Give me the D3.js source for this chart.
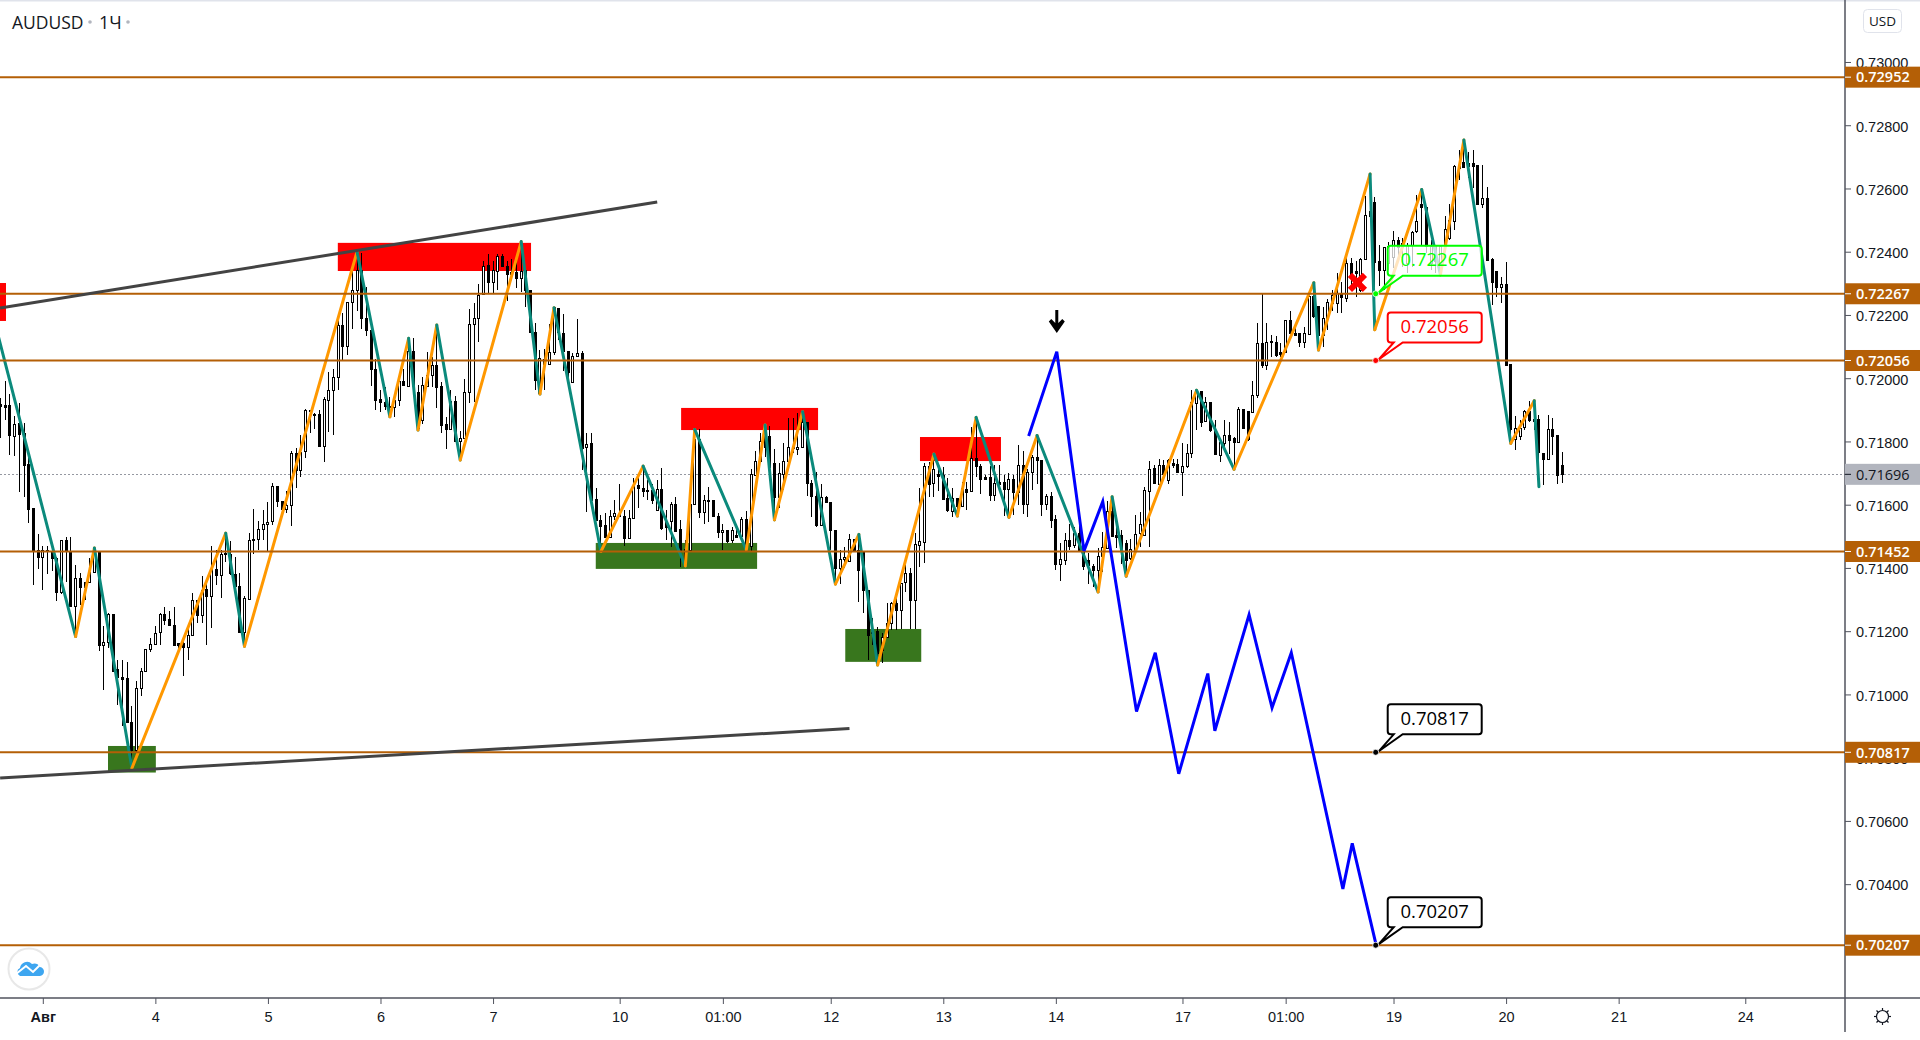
<!DOCTYPE html>
<html>
<head>
<meta charset="utf-8">
<title>AUDUSD 1Ч</title>
<script src="https://cdn.jsdelivr.net/npm/d3@7"></script>
<style>
  html, body { margin: 0; background: #fff; }
  svg { display: block; font-family: "Open Sans", sans-serif; }
  .tick text { fill: #131722; font-size: 14.5px; }
  .tick line { stroke: #50535e; }
</style>
</head>
<body>
<svg id="chart" width="1920" height="1040"></svg>
<script>
// Prices are in points (1 point = 0.00001), one entry per hourly bar.
const opens = [
  71916,71915,71913,71818,71858,71824,71726,71587,71454,71433,
  71455,71451,71431,71320,71486,71451,71278,71368,71354,71354,
  71386,71449,71154,71164,71254,71078,71055,71051,70912,70825,
  71020,71073,71143,71159,71194,71252,71236,71218,71160,71162,
  71148,71187,71297,71250,71331,71310,71396,71376,71445,71441,
  71380,71341,71196,71303,71491,71491,71523,71538,71545,71656,
  71610,71584,71598,71763,71708,71766,71897,71884,71884,
  71784,71931,71961,72003,72167,72100,72240,72277,72340,72189,72150,
  72028,71933,71923,71908,71908,71929,71990,71976,72086,71955,
  71866,71976,72009,72041,71975,71854,71839,71927,71802,71809,
  71955,72170,72189,72263,72355,72302,72340,72386,72353,72334,
  72334,72315,72340,72277,72144,71952,72060,72043,72081,72219,
  72142,72085,71986,72068,72079,71780,71792,71615,71550,71533,
  71497,71562,71569,71564,71494,71557,71661,
  71652,71646,71646,
  71583,71649,71546,71546,71601,71520,71457,71457,71601,71805,
  71575,71610,71612,71564,71512,71519,71485,71504,71499,71554,
  71465,71694,71738,71817,71815,71729,71622,71697,71738,71781,
  71775,71780,71860,71667,71625,71534,71623,71607,71518,71399,
  71427,71420,71490,71455,71451,71330,71196,71198,71140,71181,
  71223,71286,71265,71351,71381,71295,71470,71483,71722,71665,
  71696,71691,71620,71578,71620,
  71593,71649,71641,71746,71722,
  71686,71686,71630,71669,71670,71650,71681,71641,71725,71600,
  71701,71749,71741,71602,71627,71553,71412,71425,71488,71472,
  71509,71462,71423,71406,71393,71435,71464,71580,71504,71501,
  71478,71429,71456,71506,71504,71644,71715,71665,71724,71678,
  71730,71728,71704,71720,71760,71920,71959,71862,71923,71836,
  71757,71796,71820,71810,71797,71901,71894,71892,
  71947,72110,72042,
  72117,72114,72081,72081,72184,72142,72140,72113,72138,
  72258,72228,72137,72187,72237,72237,72265,72253,72363,72337,
  72279,72374,72511,72557,72368,72340,72363,72384,72437,72414,
  72363,72418,72464,72548,72539,72363,72416,72348,72416,72442,
  72498,72671,72683,72669,72680,72674,72551,72569,72374,72337,
  72286,72297,72042,71805,71817,71842,71896,71868,71868,71761,
  71744,71839,71820,71725
];
const highs = [
  71937,71992,71949,71879,71921,71858,71773,71587,71508,71470,
  71470,71473,71436,71489,71497,71499,71410,71383,71357,71431,
  71463,71452,71215,71257,71254,71109,71109,71104,70964,71043,
  71083,71143,71178,71215,71257,71276,71265,71278,71162,71183,
  71217,71320,71299,71373,71360,71468,71457,71457,71510,71484,
  71436,71383,71312,71510,71587,71549,71584,71610,71668,71656,
  71610,71642,71771,71779,71821,71902,71895,71889,71900,
  71942,72021,72028,72189,72205,72240,72358,72400,72395,72289,72150,
  72060,71963,71971,71942,71942,71994,72028,72126,72126,71979,
  72005,72084,72068,72168,71989,71878,71963,71944,71834,71996,
  72218,72237,72297,72372,72393,72372,72393,72393,72372,72376,
  72372,72432,72342,72279,72173,72089,72091,72171,72223,72219,
  72203,72085,72079,72187,72086,71826,71826,71652,71567,71573,
  71583,71615,71664,71583,71583,71683,71699,
  71720,71678,71667,
  71678,71715,71583,71610,71625,71552,71488,71601,71838,71838,
  71631,71655,71612,71575,71539,71519,71530,71533,71562,71580,
  71713,71770,71828,71852,71849,71775,71731,71794,71873,71873,
  71889,71894,71860,71678,71702,71667,71627,71607,71518,71457,
  71467,71506,71490,71509,71451,71330,71241,71214,71193,71290,
  71293,71314,71351,71409,71399,71509,71652,71733,71736,71760,
  71725,71720,71683,71652,71620,
  71673,71673,71846,71876,71730,
  71694,71722,71725,71725,71694,71699,71694,71788,71771,71712,
  71757,71819,71741,71634,71641,71567,71478,71509,71539,71530,
  71539,71488,71446,71414,71462,71514,71612,71625,71567,71520,
  71488,71490,71567,71578,71657,71739,71725,71746,71741,71746,
  71746,71746,71794,71792,71962,71964,71959,71941,71925,71868,
  71806,71868,71862,71815,71910,71901,71894,71991,
  72174,72271,72174,
  72137,72132,72110,72184,72211,72163,72142,72163,72269,
  72302,72228,72226,72251,72279,72334,72305,72379,72379,72372,
  72379,72576,72646,72574,72421,72416,72432,72464,72448,72442,
  72427,72464,72579,72597,72539,72437,72421,72416,72513,72551,
  72674,72722,72753,72716,72722,72674,72674,72606,72379,72340,
  72321,72369,72042,71881,71868,71900,71929,71929,71884,71765,
  71884,71873,71820,71767
];
const lows = [
  71812,71868,71758,71754,71639,71624,71542,71347,71397,71331,
  71381,71389,71296,71317,71354,71278,71183,71283,71299,71354,
  71386,71136,71015,71146,71073,70965,70899,70909,70767,70814,
  70996,71073,71133,71157,71157,71220,71215,71152,71130,71057,
  71109,71185,71225,71225,71157,71210,71347,71304,71420,71378,
  71310,71196,71152,71301,71443,71457,71489,71452,71536,71594,
  71584,71573,71534,71652,71686,71747,71828,71839,71782,
  71736,71831,71820,71963,72055,72073,72155,72214,72155,72133,71975,
  71899,71894,71899,71878,71878,71913,71976,71973,71973,71836,
  71855,71976,71971,71907,71828,71775,71838,71802,71741,71809,
  71921,71926,72116,72263,72270,72270,72279,72353,72245,72316,
  72284,72274,72226,72144,71963,71950,71963,72043,72073,72121,
  72024,71984,71986,72068,71710,71578,71613,71550,71452,71494,
  71494,71552,71562,71470,71494,71557,71589,
  71625,71615,71602,
  71583,71520,71488,71467,71517,71404,71404,71457,71601,71557,
  71539,71546,71560,71494,71457,71480,71478,71497,71494,71457,
  71455,71694,71736,71752,71686,71552,71588,71646,71738,71762,
  71757,71780,71627,71562,71530,71533,71606,71457,71348,71348,
  71399,71420,71451,71293,71256,71109,71156,71093,71098,71181,
  71204,71204,71207,71325,71207,71207,71404,71417,71623,71623,
  71644,71615,71578,71562,71562,
  71593,71583,71641,71688,71634,
  71678,71612,71612,71641,71564,71560,71567,71599,71570,71562,
  71646,71667,71564,71583,71525,71395,71360,71409,71456,71462,
  71451,71395,71349,71341,71324,71388,71462,71501,71462,71414,
  71374,71425,71450,71467,71504,71467,71665,71662,71688,71667,
  71715,71703,71628,71715,71749,71836,71846,71860,71831,71759,
  71736,71783,71760,71709,71797,71841,71802,71892,
  71937,72031,72026,
  72068,72068,72068,72079,72140,72135,72098,72095,72138,
  72190,72089,72100,72153,72211,72207,72205,72242,72279,72258,
  72274,72374,72509,72153,72290,72279,72342,72348,72374,72353,
  72332,72353,72460,72421,72395,72342,72332,72327,72414,72437,
  72469,72627,72666,72632,72601,72551,72537,72372,72232,72258,
  72237,72040,71794,71773,71805,71836,71863,71836,71657,71662,
  71742,71757,71666,71670
];
const closes = [
  71910,71910,71818,71855,71822,71723,71584,71454,71433,71455,
  71451,71429,71322,71486,71452,71278,71368,71338,71339,71387,
  71463,71154,71164,71254,71075,71054,71050,70911,70825,71020,
  71073,71143,71159,71194,71252,71234,71218,71154,71154,71148,
  71187,71297,71250,71329,71310,71396,71376,71443,71442,71380,
  71341,71196,71304,71488,71487,71523,71538,71545,71656,71607,
  71584,71598,71763,71708,71766,71897,71893,71881,71784,
  71933,71962,72003,72167,72100,72240,72277,72340,72188,72150,72026,
  71931,71923,71910,71912,71929,71990,71976,72086,71979,71842,
  71977,72010,72041,71973,71852,71839,71926,71802,71810,71955,
  72170,72189,72263,72353,72302,72340,72386,72353,72329,72329,
  72314,72337,72277,72144,71991,72063,72045,72082,72223,72142,
  72084,72018,72068,72079,71780,71790,71613,71550,71531,71494,
  71564,71573,71562,71494,71557,71657,71651,
  71641,71642,71615,
  71649,71527,71527,71601,71517,71451,71406,71601,71805,71575,
  71612,71612,71560,71512,71519,71485,71517,71498,71554,71457,
  71694,71738,71801,71781,71718,71622,71699,71738,71781,71777,
  71781,71860,71667,71625,71533,71622,71606,71518,71399,71427,
  71434,71490,71455,71391,71328,71188,71193,71130,71181,71225,
  71286,71265,71351,71381,71295,71473,71484,71722,71665,71710,
  71689,71615,71583,71620,71594,
  71651,71641,71746,71720,71682,
  71681,71630,71667,71664,71649,71681,71641,71725,71601,71701,
  71749,71738,71602,71627,71551,71412,71427,71488,71470,71509,
  71451,71404,71408,71393,71437,71465,71580,71501,71499,71450,
  71425,71459,71506,71536,71646,71712,71667,71724,71694,71741,
  71725,71703,71722,71762,71922,71962,71862,71922,71834,71759,
  71797,71820,71804,71797,71901,71841,71804,71946,
  72110,72042,72114,
  72113,72074,72074,72182,72142,72137,72110,72140,72258,
  72195,72137,72190,72240,72263,72269,72256,72363,72327,72332,
  72376,72513,72527,72366,72340,72413,72416,72437,72414,72427,
  72421,72460,72495,72539,72416,72416,72369,72416,72469,72500,
  72671,72666,72666,72680,72672,72551,72569,72372,72302,72286,
  72297,72040,71836,71840,71842,71894,71868,71863,71763,71742,
  71839,71818,71692,71696
];

// Zigzag pivots: bar index and price
const zigzagBars = [-1,16,20,28,48,52,76,83,87,89,93,98,111,115,118,128,137,146,148,159,163,165,171,178,183,187,199,204,208,215,221,234,237,240,255,263,280,281,292,293,303,307,312,322,327,328];
const zigzagPrices = [72162,71183,71463,70767,71510,71152,72400,71878,72126,71836,72168,71741,72432,71950,72223,71452,71722,71406,71838,71457,71852,71552,71894,71349,71506,71093,71760,71564,71876,71560,71819,71324,71625,71374,71962,71712,72302,72089,72646,72153,72597,72327,72753,71794,71929,71657];

// Hand-drawn blue forecast path
const forecastBars = [219.2,225.2,231,235,242.2,246.2,251.2,257.4,258.9,266.2,271.1,275.2,286.2,288.2,293.3];
const forecastPrices = [71817,72084,71454,71610,70946,71132,70749,71066,70885,71252,70958,71132,70385,70529,70207];

// Supply/demand boxes: [fromBar, toBar, topPrice, bottomPrice]
const redZones = [[-1,1.15,72301,72181],[71.9,113.1,72428,72339],[145.1,174.3,71906,71836],[196.03,213.3,71814,71738]];
const greenZones = [[22.9,33.1,70837,70753],[126.9,161.3,71479,71397],[180.1,196.3,71207,71103]];

// Trend lines: [fromBar, fromPrice, toBar, toPrice]
const trendLines = [[-0.1,72222,140,72557],[-0.1,70736,181,70892]];

const levels = [72952,72267,72056,71452,70817,70207];
const lastPrice = 71696;

const priceTicks = [73000,72800,72600,72400,72200,72000,71800,71600,71400,71200,71000,70800,70600,70400,70200];
const timeTickBars = [9,33,57,81,105,132,154,177,201,225,252,274,297,321,345,372];
const timeTickLabels = ["Авг","4","5","6","7","10","01:00","12","13","14","17","01:00","19","20","21","24"];

const callouts = [
  { price: 72267, color: "#00ff00" },
  { price: 72056, color: "#ff0000" },
  { price: 70817, color: "#000000" },
  { price: 70207, color: "#000000" },
];
const calloutBar = 293.2;
const crossBar = 289.3, crossPrice = 72303;
const arrowBar = 225.2, arrowPrice = 72216;

const PLOT_W = 1845, PLOT_H = 998;
const LEVEL_COLOR = "#b45f06";

const x = d3.scaleLinear().domain([0, 333]).range([0.6, 0.6 + 333 * 4.69]);
const y = d3.scaleLinear().domain([73196, 70040]).range([0, PLOT_H]);
const fmt = (p) => (p / 1e5).toFixed(5);
const crisp = (v) => Math.floor(v) + 0.5;

const svg = d3.select("#chart");
svg.append("defs").append("clipPath").attr("id", "plot")
  .append("rect").attr("width", PLOT_W).attr("height", PLOT_H);

svg.append("rect").attr("width", 1920).attr("height", 1.5).attr("fill", "#e0e3eb");

const plot = svg.append("g").attr("clip-path", "url(#plot)");

// zones sit behind the candles
function drawZones(list, color) {
  plot.append("g").selectAll("rect").data(list).join("rect")
    .attr("x", (d) => x(d[0]))
    .attr("y", (d) => y(d[2]))
    .attr("width", (d) => x(d[1]) - x(d[0]))
    .attr("height", (d) => y(d[3]) - y(d[2]))
    .attr("fill", color);
}
drawZones(redZones, "#ff0000");
drawZones(greenZones, "#38761d");

// last price dotted line
plot.append("line")
  .attr("x1", 0).attr("x2", PLOT_W)
  .attr("y1", crisp(y(lastPrice))).attr("y2", crisp(y(lastPrice)))
  .attr("stroke", "#9598a1").attr("stroke-dasharray", "2 2");

// candles
const bars = d3.range(opens.length);
const gCandles = plot.append("g").attr("shape-rendering", "crispEdges");
gCandles.selectAll("line").data(bars).join("line")
  .attr("x1", (i) => crisp(x(i))).attr("x2", (i) => crisp(x(i)))
  .attr("y1", (i) => y(highs[i])).attr("y2", (i) => y(lows[i]))
  .attr("stroke", "#000");
gCandles.selectAll("rect").data(bars).join("rect")
  .attr("x", (i) => crisp(x(i)) - 1)
  .attr("width", 2)
  .attr("y", (i) => crisp(y(Math.max(opens[i], closes[i]))))
  .attr("height", (i) => Math.max(1, Math.round(Math.abs(y(opens[i]) - y(closes[i])))))
  .attr("fill", (i) => (closes[i] >= opens[i] ? "#fff" : "#000"))
  .attr("stroke", "#000");

// zigzag: orange legs up, teal legs down
const gZig = plot.append("g").attr("fill", "none").attr("stroke-width", 3).attr("stroke-linecap", "round");
gZig.selectAll("line").data(zigzagBars.slice(1)).join("line")
  .attr("x1", (d, k) => x(zigzagBars[k])).attr("y1", (d, k) => y(zigzagPrices[k]))
  .attr("x2", (d, k) => x(zigzagBars[k + 1])).attr("y2", (d, k) => y(zigzagPrices[k + 1]))
  .attr("stroke", (d, k) => (zigzagPrices[k + 1] > zigzagPrices[k] ? "#ff9800" : "#0b8a7c"));

// horizontal levels
plot.append("g").selectAll("line").data(levels).join("line")
  .attr("x1", 0).attr("x2", PLOT_W)
  .attr("y1", (d) => y(d)).attr("y2", (d) => y(d))
  .attr("stroke", LEVEL_COLOR).attr("stroke-width", 2);

// trend lines
plot.append("g").selectAll("line").data(trendLines).join("line")
  .attr("x1", (d) => x(d[0])).attr("y1", (d) => y(d[1]))
  .attr("x2", (d) => x(d[2])).attr("y2", (d) => y(d[3]))
  .attr("stroke", "#434343").attr("stroke-width", 3);

// forecast
plot.append("path")
  .datum(forecastBars)
  .attr("fill", "none").attr("stroke", "#0000ff").attr("stroke-width", 3)
  .attr("d", d3.line().x((d) => x(d)).y((d, k) => y(forecastPrices[k])));

// red cross
const cx = x(crossBar), cy = y(crossPrice);
plot.append("path")
  .attr("d", `M${cx - 7.5},${cy - 7.5}L${cx + 7.5},${cy + 7.5}M${cx + 7.5},${cy - 7.5}L${cx - 7.5},${cy + 7.5}`)
  .attr("stroke", "#ff0000").attr("stroke-width", 6);

// black down arrow
const ax = x(arrowBar), ay = y(arrowPrice);
plot.append("path")
  .attr("d", `M${ax - 1.5},${ay}h3v13l4,-4l2.5,2.5l-8,11.5l-8,-11.5l2.5,-2.5l4,4z`)
  .attr("fill", "#000");

// callouts with a tail pointing at the level
callouts.forEach((c) => {
  const px = x(calloutBar), py = y(c.price);
  const l = px + 12, r = px + 106, t = py - 48, b = py - 18, rad = 3;
  const g = svg.append("g");
  g.append("path")
    .attr("d", `M${l + rad},${t}H${r - rad}Q${r},${t} ${r},${t + rad}V${b - rad}Q${r},${b} ${r - rad},${b}`
      + `H${px + 27}L${px + 3},${py - 1}L${px + 18},${b}H${l + rad}Q${l},${b} ${l},${b - rad}V${t + rad}Q${l},${t} ${l + rad},${t}Z`)
    .attr("fill", "rgba(255,255,255,0.75)").attr("stroke", c.color).attr("stroke-width", 2);
  g.append("circle").attr("cx", px).attr("cy", py).attr("r", 3)
    .attr("fill", c.color).attr("stroke", "#fff").attr("stroke-width", 0.8);
  g.append("text")
    .attr("x", (l + r) / 2).attr("y", t + 20.5)
    .attr("text-anchor", "middle")
    .attr("font-size", 18.5).attr("font-weight", 500)
    .attr("fill", c.color)
    .text(fmt(c.price));
});

// price axis
const yAxis = d3.axisRight(y).tickValues(priceTicks).tickFormat(fmt).tickSize(6).tickPadding(5);
const gy = svg.append("g").attr("transform", `translate(${PLOT_W},0)`).call(yAxis);
gy.select(".domain").remove();
gy.selectAll(".tick text").attr("dy", "0.4em");

// time axis
const xAxis = d3.axisBottom(x).tickValues(timeTickBars)
  .tickFormat((d, k) => timeTickLabels[k]).tickSize(6).tickPadding(8);
const gx = svg.append("g").attr("transform", `translate(0,${PLOT_H})`).call(xAxis);
gx.select(".domain").remove();
gx.selectAll(".tick text").filter((d, k) => k === 0).attr("font-weight", 700).style("font-weight", 700);

svg.append("line").attr("x1", 0).attr("x2", 1920).attr("y1", PLOT_H).attr("y2", PLOT_H)
  .attr("stroke", "#50535e").attr("stroke-width", 1.5);
svg.append("line").attr("x1", PLOT_W).attr("x2", PLOT_W).attr("y1", 0).attr("y2", 1032)
  .attr("stroke", "#50535e").attr("stroke-width", 1.5);

// price labels over the axis
function priceLabel(price, bg, fg, weight) {
  const g = svg.append("g").attr("transform", `translate(${PLOT_W},${y(price)})`);
  g.append("rect").attr("x", 0).attr("y", -10.5).attr("width", 75).attr("height", 21).attr("fill", bg);
  g.append("line").attr("x1", 0).attr("x2", 6).attr("stroke", fg);
  g.append("text").attr("x", 11).attr("dy", "0.36em")
    .attr("font-size", 14.5).attr("font-weight", weight).attr("fill", fg)
    .text(fmt(price));
}
priceLabel(lastPrice, "#b2b5be", "#131722", 400);
levels.forEach((p) => priceLabel(p, LEVEL_COLOR, "#fff", 600));

// USD button
svg.append("rect").attr("x", 1863.5).attr("y", 9.5).attr("width", 38).attr("height", 23).attr("rx", 4)
  .attr("fill", "#fff").attr("stroke", "#e0e3eb");
svg.append("text").attr("x", 1882.5).attr("y", 26).attr("text-anchor", "middle")
  .attr("font-size", 13.5).attr("fill", "#131722").text("USD");

// title
svg.append("text").attr("x", 12).attr("y", 29).attr("font-size", 17.5).attr("fill", "#131722").text("AUDUSD");
svg.append("text").attr("x", 99).attr("y", 29).attr("font-size", 18).attr("fill", "#131722").text("1Ч");
[90, 128].forEach((dx) => {
  svg.append("circle").attr("cx", dx).attr("cy", 22).attr("r", 1.8).attr("fill", "#b2b5be");
});

// settings gear
const gear = svg.append("g").attr("transform", "translate(1882.5,1016.5)")
  .attr("fill", "none").attr("stroke", "#131722").attr("stroke-width", 1.2);
gear.append("circle").attr("r", 6);
d3.range(8).forEach((k) => {
  const a = k * Math.PI / 4;
  gear.append("line")
    .attr("x1", 6 * Math.cos(a)).attr("y1", 6 * Math.sin(a))
    .attr("x2", 8.5 * Math.cos(a)).attr("y2", 8.5 * Math.sin(a));
});

// logo
svg.append("circle").attr("cx", 29).attr("cy", 969).attr("r", 20.5)
  .attr("fill", "#fff").attr("stroke", "#e8e8e8").attr("stroke-width", 2);
svg.append("path")
  .attr("d", "M20 976h19a4.5 4.5 0 0 0 1 -9a7 7 0 0 0 -8 -3a7 7 0 0 0 -12 4a4.3 4.3 0 0 0 0 8z")
  .attr("fill", "#3ea6f0");
svg.append("polyline").attr("points", "16,974 26,966 33,972 41,964")
  .attr("fill", "none").attr("stroke", "#fff").attr("stroke-width", 2);
</script>
</body>
</html>
